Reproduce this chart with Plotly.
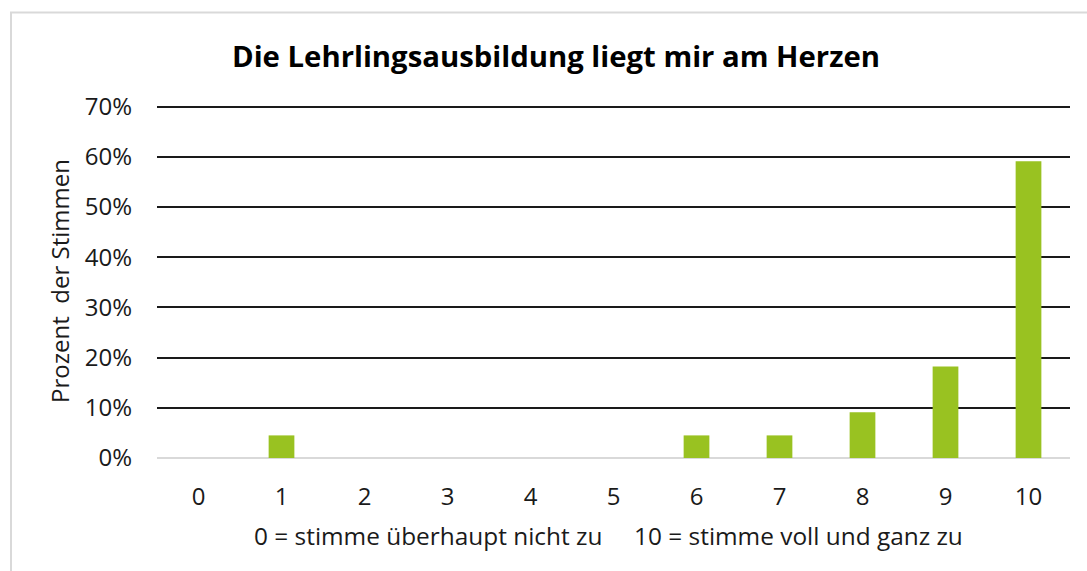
import plotly.graph_objects as go

categories = ["0", "1", "2", "3", "4", "5", "6", "7", "8", "9", "10"]
values = [0.0, 0.045, 0.0, 0.0, 0.0, 0.0, 0.045, 0.045, 0.091, 0.182, 0.591]

title_text = "<b>Die Lehrlingsausbildung liegt mir am Herzen</b>"
x_title = "0 = stimme überhaupt nicht zu     10 = stimme voll und ganz zu"
y_title = "Prozent  der Stimmen"

FONT = "Open Sans"
TXT = "#1a1a1a"
YMAX = 0.705
plot_h = 351 * YMAX / 0.7
top_m = 458 - plot_h

fig = go.Figure()
fig.add_trace(go.Bar(x=categories, y=values, marker=dict(color="#99c221", line=dict(width=0)),
                     width=0.31))

fig.update_layout(
    width=1087, height=571,
    margin=dict(l=157, r=17, t=top_m, b=113),
    paper_bgcolor="white", plot_bgcolor="white",
    font=dict(family=FONT, color=TXT, size=24),
    title=dict(text=title_text, x=556/1087, xref="container", xanchor="center",
               y=1-57/571, yref="container", yanchor="middle",
               font=dict(family=FONT, size=29.3, color="black")),
    showlegend=False,
)
fig.update_xaxes(type="category", showgrid=False, showline=False, ticks="",
                 ticklabelstandoff=22,
                 tickfont=dict(size=24, family=FONT, color=TXT))
fig.update_yaxes(range=[0, YMAX], dtick=0.1, tickformat=".0%", showgrid=True,
                 gridcolor=TXT, gridwidth=1.5,
                 zeroline=True, zerolinecolor="#d9d9d9", zerolinewidth=2,
                 showline=False, ticks="", ticklabelstandoff=24,
                 tickfont=dict(size=24, family=FONT, color=TXT),
                 title=dict(text=y_title, standoff=8, font=dict(size=24, family=FONT, color=TXT)))

# x-axis title as annotation (slightly left of plot centre, as in the reference)
fig.add_annotation(text=x_title, xref="paper", yref="paper",
                   x=(608 - 157) / 913, y=(458 - 535) / plot_h,
                   xanchor="center", yanchor="middle", showarrow=False,
                   font=dict(size=24.4, family=FONT, color=TXT))

# chart frame (extends past the visible area on right and bottom)
fig.add_shape(type="rect", xref="paper", yref="paper",
              x0=(11-157)/913, x1=1.2, y0=-0.6, y1=(458-13)/plot_h,
              line=dict(color="#d9d9d9", width=2), layer="below")

fig.write_html("out.html", config={"displayModeBar": False},
               post_script="document.body.style.margin='0';")
